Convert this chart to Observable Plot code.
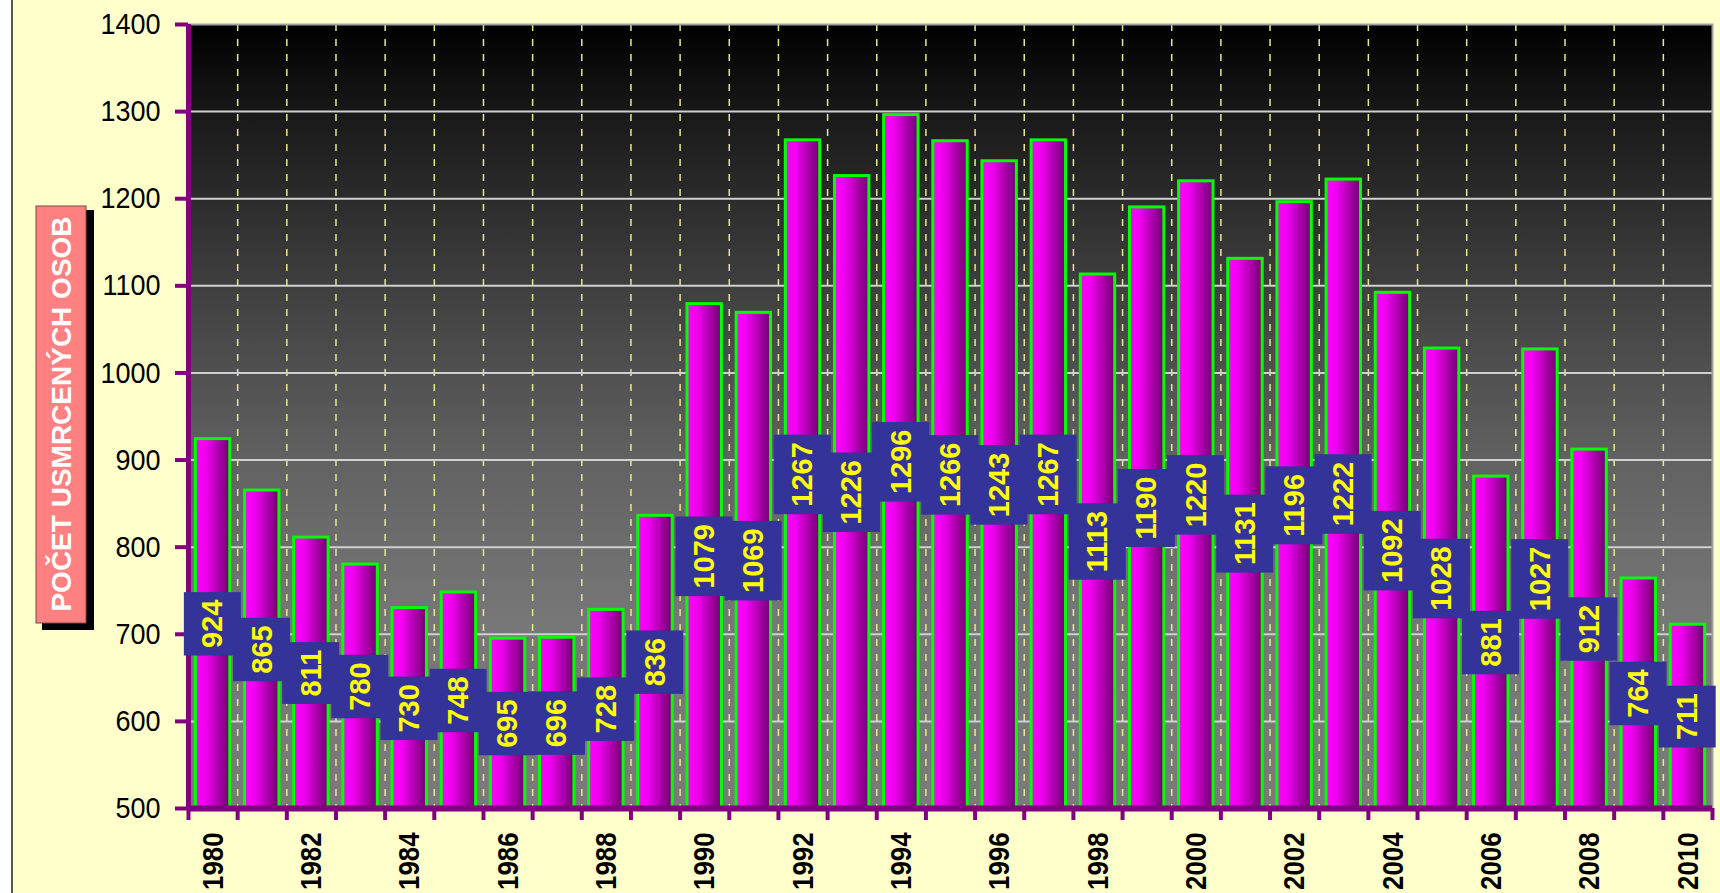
<!DOCTYPE html>
<html>
<head>
<meta charset="utf-8">
<script src="https://cdn.jsdelivr.net/npm/d3@7"></script>
<script src="https://cdn.jsdelivr.net/npm/@observablehq/plot@0.6"></script>
<style>
  html, body { margin: 0; padding: 0; background: #ffffcc; }
  #chart svg { display: block; }
  g[aria-label="y-axis tick label"] text { font-size: 30px; fill: #000; }
  g[aria-label="x-axis tick label"] text { font-size: 30px; font-weight: bold; fill: #000; }
</style>
</head>
<body>
<div id="chart"></div>
<script>
// ---- data ----
const years = [1980, 1981, 1982, 1983, 1984, 1985, 1986, 1987, 1988, 1989, 1990,
  1991, 1992, 1993, 1994, 1995, 1996, 1997, 1998, 1999, 2000,
  2001, 2002, 2003, 2004, 2005, 2006, 2007, 2008, 2009, 2010];
const deaths = [924, 865, 811, 780, 730, 748, 695, 696, 728, 836, 1079,
  1069, 1267, 1226, 1296, 1266, 1243, 1267, 1113, 1190, 1220,
  1131, 1196, 1222, 1092, 1028, 881, 1027, 912, 764, 711];
const yTicks = [500, 600, 700, 800, 900, 1000, 1100, 1200, 1300, 1400];
const xTickLabels = [1980, 1982, 1984, 1986, 1988, 1990, 1992, 1994, 1996, 1998,
  2000, 2002, 2004, 2006, 2008, 2010];
const yTitle = "POČET USMRCENÝCH OSOB";

const data = years.map((year, i) => ({year, value: deaths[i]}));
const boundaries = years.map(y => y - 0.5).concat([years[years.length - 1] + 0.5]);
const innerBoundaries = boundaries.slice(1, -1);
const yMin = yTicks[0], yMax = yTicks[yTicks.length - 1];
const gridY = yTicks.slice(1, -1);

const FONT = "'Liberation Sans', Arial, sans-serif";
const PURPLE = "#800080";

const chart = Plot.plot({
  width: 1720,
  height: 893,
  marginLeft: 188,
  marginRight: 8,
  marginTop: 24,
  marginBottom: 85,
  style: {
    background: "linear-gradient(to right, #ffffff 0px, #ffffff 11px, #555555 11px, #555555 13px, #ffffcc 13px)",
    fontFamily: FONT,
    color: "#000"
  },
  x: {domain: [boundaries[0], boundaries[boundaries.length - 1]], axis: null},
  y: {domain: [yMin, yMax], axis: null},
  marks: [
    Plot.frame({fill: "url(#bgGrad)", stroke: "none"}),
    Plot.ruleX(innerBoundaries, {x: d => d, stroke: "#e8e890", strokeWidth: 1.5, strokeDasharray: "7,8"}),
    Plot.ruleY(gridY, {y: d => d, stroke: "#d0d0d0", strokeWidth: 2}),
    Plot.rectY(data, {
      x1: d => d.year - 0.35,
      x2: d => d.year + 0.35,
      y1: yMin,
      y2: "value",
      fill: "url(#barGrad)",
      stroke: "#00ff00",
      strokeWidth: 3
    }),
    Plot.frame({stroke: "#a0a0a0", strokeWidth: 2}),
    Plot.ruleX([boundaries[0]], {x: d => d, stroke: PURPLE, strokeWidth: 5}),
    Plot.ruleY([yMin], {y: d => d, stroke: PURPLE, strokeWidth: 6}),
    Plot.axisY({ticks: yTicks, tickSize: 13, tickPadding: 15, stroke: PURPLE, strokeWidth: 4, label: null, tickFormat: d => String(d)}),
    Plot.axisX({ticks: boundaries, tickSize: 12, stroke: PURPLE, strokeWidth: 4, label: null, tickFormat: () => ""}),
    Plot.axisX({ticks: xTickLabels, tickSize: 0, tickPadding: 24, tickRotate: -90, label: null, tickFormat: d => String(d)}),
    Plot.text(data, {
      x: "year",
      y: d => (d.value + yMin) / 2,
      text: d => String(d.value),
      rotate: -90,
      fill: "#ffff00",
      fontSize: 29,
      fontWeight: "bold",
      fontFamily: FONT
    })
  ]
});

document.getElementById("chart").append(chart);

// match the reference's slightly condensed axis lettering
function squeeze(sel, sx) {
  chart.querySelectorAll(sel).forEach(t => {
    const tr = t.getAttribute("transform") || "";
    t.setAttribute("transform", tr + ` scale(${sx},1)`);
  });
}
squeeze('g[aria-label="y-axis tick label"] text', 0.9);
squeeze('g[aria-label="x-axis tick label"] text', 0.86);

const svg = d3.select(chart);
const defs = svg.insert("defs", ":first-child");
const bg = defs.append("linearGradient").attr("id", "bgGrad")
  .attr("x1", 0).attr("y1", 0).attr("x2", 0).attr("y2", 1);
[[0, "#000000"], [0.12, "#1a1a1a"], [0.34, "#404040"], [0.56, "#626262"], [0.76, "#777777"], [1, "#7a7a7a"]]
  .forEach(([o, c]) => bg.append("stop").attr("offset", o).attr("stop-color", c));
const bar = defs.append("linearGradient").attr("id", "barGrad")
  .attr("x1", 0).attr("y1", 0).attr("x2", 1).attr("y2", 0);
[[0, "#ff00ff"], [0.3, "#f000f0"], [0.65, "#b000b0"], [1, "#6e006e"]]
  .forEach(([o, c]) => bar.append("stop").attr("offset", o).attr("stop-color", c));

// label boxes behind value labels
const labelG = chart.querySelector('g[aria-label="text"]');
if (labelG) {
  const texts = Array.from(labelG.querySelectorAll("text"));
  const ns = "http://www.w3.org/2000/svg";
  const rects = texts.map(t => {
    const bb = t.getBBox();
    const r = document.createElementNS(ns, "rect");
    r.setAttribute("x", bb.x - 7.5);
    r.setAttribute("y", bb.y - 12.5);
    r.setAttribute("width", bb.width + 15);
    r.setAttribute("height", bb.height + 25);
    r.setAttribute("fill", "#333399");
    r.setAttribute("stroke", "none");
    const tr = t.getAttribute("transform");
    if (tr) r.setAttribute("transform", tr);
    return r;
  });
  const first = labelG.firstChild;
  rects.forEach(r => labelG.insertBefore(r, first));
}

// y-axis title box
const tg = svg.append("g").attr("aria-label", "y-axis title");
tg.append("rect").attr("x", 42).attr("y", 210).attr("width", 52).attr("height", 420).attr("fill", "#000");
tg.append("rect").attr("x", 36).attr("y", 206).attr("width", 50).attr("height", 417)
  .attr("fill", "#ff8080").attr("stroke", "#7a4a4a").attr("stroke-width", 1);
tg.append("text")
  .attr("transform", "translate(61,414) rotate(-90)")
  .attr("text-anchor", "middle")
  .attr("dy", "0.36em")
  .attr("fill", "#ffffff")
  .attr("font-weight", "bold")
  .attr("font-size", 28)
  .attr("font-family", FONT)
  .text(yTitle);
</script>
</body>
</html>
